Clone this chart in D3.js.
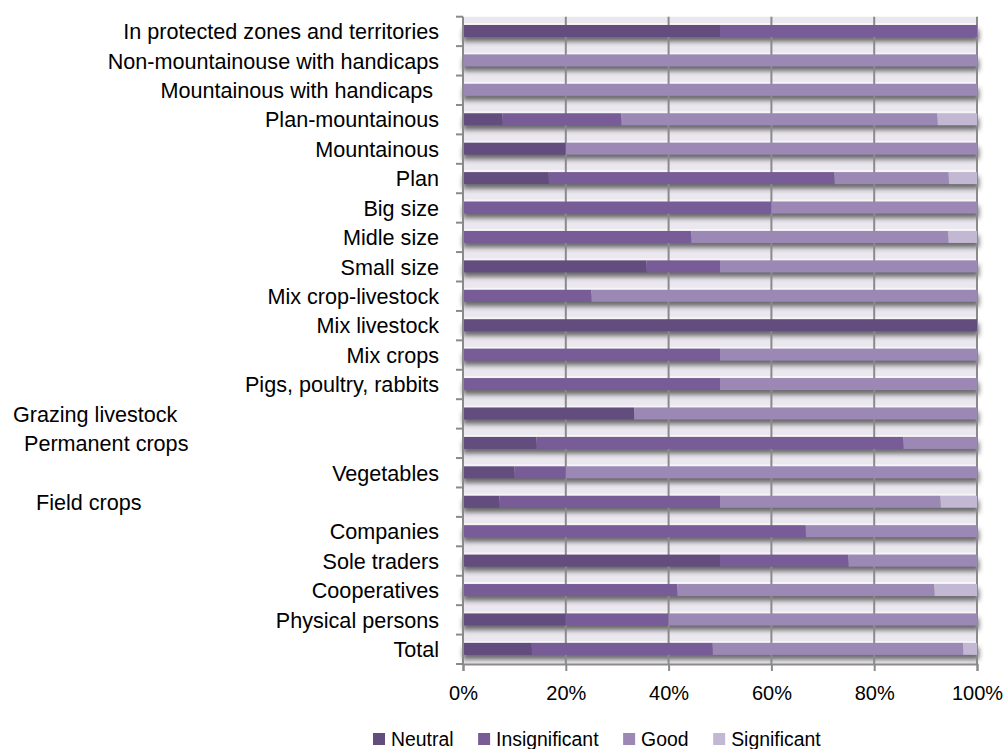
<!DOCTYPE html>
<html>
<head>
<meta charset="utf-8">
<script src="https://cdn.jsdelivr.net/npm/d3@7"></script>
<style>
  html, body { margin: 0; padding: 0; background: #ffffff; }
  svg { display: block; }
  text { font-family: "Liberation Sans", Arial, sans-serif; fill: #000; }
</style>
</head>
<body>
<svg id="chart" width="1003" height="749"></svg>
<script>
// Category labels, top to bottom
const categories = [
  "In protected zones and territories",
  "Non-mountainouse with handicaps",
  "Mountainous with handicaps ",
  "Plan-mountainous",
  "Mountainous",
  "Plan",
  "Big size",
  "Midle size",
  "Small size",
  "Mix crop-livestock",
  "Mix livestock",
  "Mix crops",
  "Pigs, poultry, rabbits",
  "Grazing livestock",
  "Permanent crops",
  "Vegetables",
  "Field crops",
  "Companies",
  "Sole traders",
  "Cooperatives",
  "Physical persons",
  "Total"
];

// Series names
const seriesNames = ["Neutral", "Insignificant", "Good", "Significant"];

// Shares of answers, in percent, one value per category
const neutral       = [50, 0, 0, 7.7, 20, 16.7, 0, 0, 35.7, 0, 100, 0, 0, 33.3, 14.3, 10, 7.1, 0, 50, 0, 20, 13.4];
const insignificant = [50, 0, 0, 23.1, 0, 55.6, 60, 44.4, 14.3, 25, 0, 50, 50, 0, 71.4, 10, 42.9, 66.7, 25, 41.7, 20, 35.2];
const good          = [0, 100, 100, 61.5, 80, 22.2, 40, 50, 50, 75, 0, 50, 50, 66.7, 14.3, 80, 42.9, 33.3, 25, 50, 60, 48.7];
const significant   = [0, 0, 0, 7.7, 0, 5.5, 0, 5.6, 0, 0, 0, 0, 0, 0, 0, 0, 7.1, 0, 0, 8.3, 0, 2.7];

// Axis ticks
const xTicks = [0, 20, 40, 60, 80, 100];
const xTickLabels = ["0%", "20%", "40%", "60%", "80%", "100%"];

// ---- layout & styling ----
const colors = ["#634d7e", "#775c97", "#9b88b5", "#c3b8d3"];
const plot = { left: 463, right: 977, top: 16.7, bottom: 664 };
const barHeight = 12;
const barOffset = 8.3;
// Labels that sit left-aligned away from the axis
const detachedLabelX = { "Grazing livestock": 13, "Permanent crops": 24, "Field crops": 36 };

const svg = d3.select("#chart");

const rows = categories.map((c, i) => ({
  category: c,
  Neutral: neutral[i],
  Insignificant: insignificant[i],
  Good: good[i],
  Significant: significant[i]
}));

const stack = d3.stack().keys(seriesNames);
const layers = stack(rows);

const x = d3.scaleLinear().domain([0, 100]).range([plot.left, plot.right]);
const y = d3.scaleBand().domain(categories).range([plot.top, plot.bottom]).paddingInner(0).paddingOuter(0);
const color = d3.scaleOrdinal().domain(seriesNames).range(colors);

// Drop-shadow blur
const defs = svg.append("defs");
defs.append("filter")
  .attr("id", "barShadow")
  .attr("x", "-5%").attr("y", "-100%").attr("width", "110%").attr("height", "300%")
  .append("feGaussianBlur").attr("stdDeviation", 2.4);

// Plot background
svg.append("rect")
  .attr("x", plot.left).attr("y", plot.top)
  .attr("width", plot.right - plot.left).attr("height", plot.bottom - plot.top)
  .attr("fill", "#eae7ee");

// Thin light line along the top edge of each bar row
svg.append("g").selectAll("line")
  .data(rows)
  .join("line")
  .attr("x1", x(0)).attr("x2", x(100))
  .attr("y1", d => y(d.category) + barOffset - 1)
  .attr("y2", d => y(d.category) + barOffset - 1)
  .attr("stroke", "#f6f5f8").attr("stroke-width", 2);

// Shadows beneath each bar
svg.append("g").selectAll("rect")
  .data(rows)
  .join("rect")
  .attr("x", x(0))
  .attr("y", d => y(d.category) + barOffset + 4.5)
  .attr("width", d => x(d.Neutral + d.Insignificant + d.Good + d.Significant) - x(0) + 2)
  .attr("height", barHeight)
  .attr("fill", "#333")
  .attr("opacity", 0.7)
  .attr("filter", "url(#barShadow)");

// Vertical gridlines
svg.append("g").selectAll("line")
  .data(xTicks.filter(t => t > 0))
  .join("line")
  .attr("x1", d => x(d)).attr("x2", d => x(d))
  .attr("y1", plot.top).attr("y2", plot.bottom)
  .attr("stroke", "#8a8a8a").attr("stroke-width", 2);

// Stacked bars
svg.append("g").selectAll("g")
  .data(layers)
  .join("g")
  .attr("fill", d => color(d.key))
  .selectAll("rect")
  .data(d => d.filter(s => s[1] - s[0] > 0))
  .join("rect")
  .attr("x", d => x(d[0]))
  .attr("y", d => y(d.data.category) + barOffset)
  .attr("width", d => x(d[1]) - x(d[0]))
  .attr("height", barHeight);

// Left axis line with ticks at band boundaries
const axisColor = "#8a8a8a";
svg.append("line")
  .attr("x1", plot.left).attr("x2", plot.left)
  .attr("y1", plot.top).attr("y2", plot.bottom)
  .attr("stroke", axisColor).attr("stroke-width", 2);
const bounds = categories.map(c => y(c)).concat([plot.bottom]);
svg.append("g").selectAll("line")
  .data(bounds)
  .join("line")
  .attr("x1", plot.left - 7).attr("x2", plot.left)
  .attr("y1", d => d).attr("y2", d => d)
  .attr("stroke", axisColor).attr("stroke-width", 2);

// Bottom axis via d3.axisBottom
const xAxis = d3.axisBottom(x)
  .tickValues(xTicks)
  .tickFormat((d, i) => xTickLabels[i])
  .tickSize(7)
  .tickPadding(15);
const gx = svg.append("g")
  .attr("transform", `translate(0,${plot.bottom})`)
  .call(xAxis);
gx.select(".domain").attr("stroke", axisColor).attr("stroke-width", 2);
gx.selectAll(".tick line").attr("stroke", axisColor).attr("stroke-width", 2);
gx.selectAll(".tick text")
  .attr("fill", "#000")
  .style("font-family", "'Liberation Sans', Arial, sans-serif")
  .style("font-size", "20px");

// Category labels
svg.append("g").selectAll("text")
  .data(categories)
  .join("text")
  .attr("x", d => detachedLabelX[d] !== undefined ? detachedLabelX[d] : 439)
  .attr("y", d => y(d) + y.bandwidth() / 2)
  .attr("dy", "0.36em")
  .attr("text-anchor", d => detachedLabelX[d] !== undefined ? "start" : "end")
  .style("white-space", "pre")
  .style("font-size", "21.6px")
  .text(d => d);

// Legend
const legend = svg.append("g").attr("transform", "translate(373,0)");
let lx = 0;
seriesNames.forEach((name, i) => {
  const g = legend.append("g").attr("transform", `translate(${lx},0)`);
  g.append("rect")
    .attr("x", 0).attr("y", 733)
    .attr("width", 12).attr("height", 12)
    .attr("fill", colors[i]);
  const t = g.append("text")
    .attr("x", 18).attr("y", 746)
    .style("font-size", "19.4px")
    .text(name);
  lx += 18 + t.node().getComputedTextLength() + 24.6;
});
</script>
</body>
</html>
